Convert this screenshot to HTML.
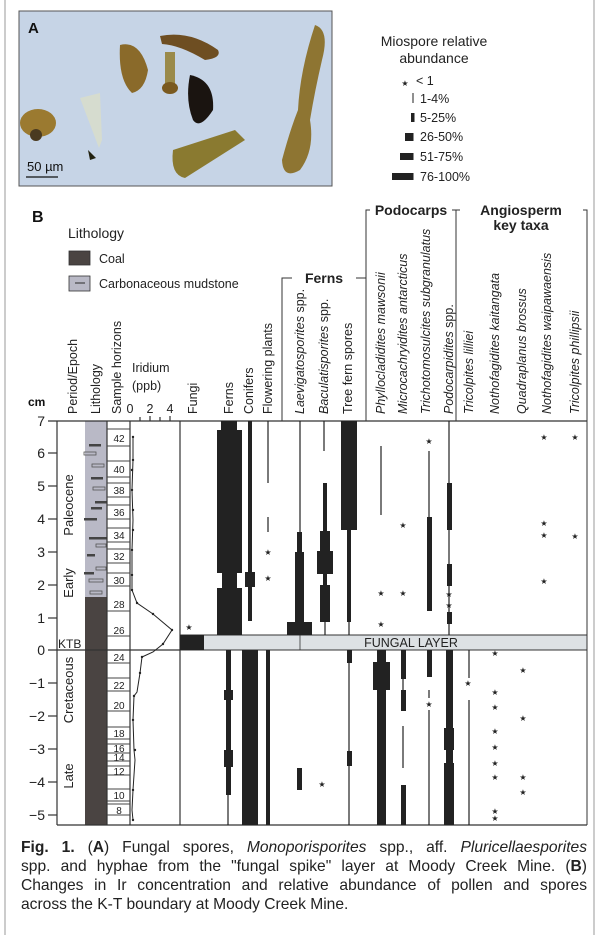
<!DOCTYPE html>
<html><head><meta charset="utf-8"><style>
html,body{margin:0;padding:0;background:#fff;}
body{width:600px;height:935px;position:relative;overflow:hidden;font-family:"Liberation Sans",sans-serif;}
.cap{position:absolute;left:21px;width:566px;font-size:15.6px;color:#222;text-align:justify;text-align-last:justify;white-space:nowrap;}
.cap.last{text-align-last:left;}
</style></head><body>
<svg width="600" height="935" viewBox="0 0 600 935" xmlns="http://www.w3.org/2000/svg" style="position:absolute;left:0;top:0" font-family="Liberation Sans, sans-serif">
<rect x="5" y="-2" width="589" height="940" fill="none" stroke="#bbb" stroke-width="1.5"/>
<!-- Photo A -->
<rect x="19" y="11" width="313" height="175" fill="#c6d4e6" stroke="#555" stroke-width="1"/>
<path d="M120 45 Q140 40 148 70 Q145 90 132 93 Q118 80 120 45Z" fill="#8a6a2a"/>
<path d="M160 36 Q190 30 218 50 Q222 58 205 60 Q180 45 162 44Z" fill="#6e4e22"/>
<rect x="165" y="52" width="10" height="36" fill="#9a8a4a"/>
<ellipse cx="170" cy="88" rx="8" ry="6" fill="#7a5a20"/>
<path d="M190 75 Q215 80 213 110 Q200 130 193 120 Q185 100 190 75Z" fill="#1a1410"/>
<path d="M173 150 L235 130 L245 140 L185 178 Q170 175 173 150Z" fill="#8a7a30"/>
<path d="M315 25 Q330 30 322 60 Q315 90 310 120 Q315 150 300 170 Q283 180 282 160 Q290 130 298 110 Q300 70 315 25Z" fill="#8e7532"/>
<ellipse cx="38" cy="123" rx="18" ry="14" fill="#9b7a30"/>
<ellipse cx="36" cy="135" rx="6" ry="6" fill="#4a3a20"/>
<path d="M80 98 L100 93 L102 140 L99 148 Z" fill="#d6dccf"/>
<path d="M88 150 L96 158 L90 160Z" fill="#221"/>
<text x="28" y="33" font-size="15" font-weight="bold" fill="#111">A</text>
<text x="27" y="171" font-size="13" fill="#111">50 µm</text>
<line x1="26" y1="177" x2="58" y2="177" stroke="#111" stroke-width="1.2"/>
<!-- legend -->
<g fill="#222" font-size="14" text-anchor="middle"><text x="434" y="46">Miospore relative</text><text x="434" y="63">abundance</text></g>
<g font-size="12.5" fill="#222">
<text x="405" y="86" font-size="8" text-anchor="middle">★</text><text x="416" y="85">&lt; 1</text>
<line x1="413" y1="93" x2="413" y2="103" stroke="#222"/><text x="420" y="103">1-4%</text>
<rect x="411" y="113" width="3.5" height="9" fill="#222"/><text x="420" y="122">5-25%</text>
<rect x="405" y="133" width="8.5" height="8" fill="#222"/><text x="420" y="141">26-50%</text>
<rect x="400" y="153" width="13.5" height="7" fill="#222"/><text x="420" y="161">51-75%</text>
<rect x="392" y="173" width="21.5" height="7" fill="#222"/><text x="420" y="181">76-100%</text>
</g>
<!-- B header -->
<text x="32" y="222" font-size="16" font-weight="bold" fill="#111">B</text>
<text x="68" y="238" font-size="14" fill="#222">Lithology</text>
<rect x="69" y="251" width="21" height="14" fill="#4a4442" stroke="#333" stroke-width="0.8"/>
<text x="99" y="263" font-size="12.5" fill="#222">Coal</text>
<rect x="69" y="276" width="21" height="15" fill="#b9b9c6" stroke="#333" stroke-width="0.8"/>
<line x1="75" y1="283" x2="85" y2="283" stroke="#444" stroke-width="1.2"/>
<text x="99" y="288" font-size="12.5" fill="#222">Carbonaceous mudstone</text>
<text x="28" y="406" font-size="12" font-weight="bold" fill="#111">cm</text>
<g font-size="12.5" fill="#222">
<text transform="translate(77,414) rotate(-90)">Period/Epoch</text>
<text transform="translate(100,414) rotate(-90)">Lithology</text>
<text transform="translate(121,414) rotate(-90)">Sample horizons</text>
<text x="132" y="372">Iridium</text><text x="132" y="390">(ppb)</text>
<text x="130" y="413" text-anchor="middle">0</text><text x="150" y="413" text-anchor="middle">2</text><text x="170" y="413" text-anchor="middle">4</text>
<text transform="translate(197,414) rotate(-90)">Fungi</text>
<text transform="translate(233,414) rotate(-90)">Ferns</text>
<text transform="translate(253,414) rotate(-90)">Conifers</text>
<text transform="translate(272,414) rotate(-90)">Flowering plants</text>
</g>
<g font-size="12.5" fill="#222" xml:space="preserve" style="white-space:pre">
<text transform="translate(304,414) rotate(-90)" font-style="italic">Laevigatosporites <tspan font-style="normal">spp.</tspan></text>
<text transform="translate(328,414) rotate(-90)" font-style="italic">Baculatisporites <tspan font-style="normal">spp.</tspan></text>
<text transform="translate(352,414) rotate(-90)">Tree fern spores</text>
<text transform="translate(385,414) rotate(-90)" font-style="italic">Phyllocladidites mawsonii</text>
<text transform="translate(407,414) rotate(-90)" font-style="italic">Microcachryidites antarcticus</text>
<text transform="translate(430,414) rotate(-90)" font-style="italic">Trichotomosulcites subgranulatus</text>
<text transform="translate(453,414) rotate(-90)" font-style="italic">Podocarpidites  <tspan font-style="normal">spp.</tspan></text>
<text transform="translate(473,414) rotate(-90)" font-style="italic">Tricolpites lilliei</text>
<text transform="translate(499,414) rotate(-90)" font-style="italic">Nothofagidites  kaitangata</text>
<text transform="translate(526,414) rotate(-90)" font-style="italic">Quadraplanus brossus</text>
<text transform="translate(551,414) rotate(-90)" font-style="italic">Nothofagidites  waipawaensis</text>
<text transform="translate(579,414) rotate(-90)" font-style="italic">Tricolpites phillipsii</text>
</g>
<g stroke="#333" stroke-width="1" fill="none">
<polyline points="282,421 282,278 292,278"/><polyline points="356,278 366,278"/>
<polyline points="366,421 366,210 370,210"/><polyline points="452,210 456,210"/>
<polyline points="456,421 456,210 460,210"/><polyline points="583,210 587,210 587,825"/>
</g>
<g font-size="14" font-weight="bold" fill="#222" text-anchor="middle">
<text x="324" y="283">Ferns</text><text x="411" y="215">Podocarps</text>
<text x="521" y="215">Angiosperm</text><text x="521" y="230">key taxa</text>
</g>
<!-- Lithology column -->
<rect x="85" y="421" width="22" height="176" fill="#b9b9c6"/>
<rect x="85" y="597" width="22" height="228" fill="#4a4442"/>
<g fill="#444">
<rect x="89" y="444" width="12" height="2.5"/><rect x="91" y="477" width="12" height="2.5"/><rect x="95" y="501" width="12" height="2.5"/>
<rect x="91" y="507" width="11" height="2.5"/><rect x="84" y="518" width="13" height="2.5"/><rect x="89" y="537" width="18" height="2.5"/>
<rect x="87" y="554" width="8" height="2.5"/><rect x="84" y="572" width="10" height="2.5"/>
</g>
<g fill="none" stroke="#555" stroke-width="0.8">
<rect x="84" y="452" width="12" height="3"/><rect x="92" y="464" width="12" height="3"/><rect x="93" y="487" width="12" height="3"/>
<rect x="96" y="544" width="10" height="3"/><rect x="96" y="567" width="10" height="3"/><rect x="89" y="579" width="14" height="3"/><rect x="90" y="591" width="12" height="3"/>
</g>
<!-- axes -->
<g stroke="#333" stroke-width="1.2" fill="none">
<line x1="48" y1="421" x2="587" y2="421"/>
<line x1="57" y1="421" x2="57" y2="825"/>
<line x1="57" y1="825" x2="587" y2="825"/>
<line x1="107" y1="421" x2="107" y2="825"/>
<line x1="130" y1="421" x2="130" y2="825"/>
<line x1="180" y1="421" x2="180" y2="825"/>
<line x1="48" y1="650" x2="180" y2="650"/>
<line x1="140" y1="421" x2="140" y2="417"/><line x1="160" y1="421" x2="160" y2="417"/><line x1="150" y1="421" x2="150" y2="416"/><line x1="170" y1="421" x2="170" y2="416"/>
<line x1="48" y1="453" x2="57" y2="453"/><line x1="48" y1="486" x2="57" y2="486"/><line x1="48" y1="519" x2="57" y2="519"/><line x1="48" y1="552" x2="57" y2="552"/><line x1="48" y1="585" x2="57" y2="585"/><line x1="48" y1="618" x2="57" y2="618"/>
<line x1="48" y1="683" x2="57" y2="683"/><line x1="48" y1="716" x2="57" y2="716"/><line x1="48" y1="749" x2="57" y2="749"/><line x1="48" y1="782" x2="57" y2="782"/><line x1="48" y1="815" x2="57" y2="815"/>
</g>
<g font-size="14" fill="#222" text-anchor="end">
<text x="45" y="426">7</text><text x="45" y="458">6</text><text x="45" y="491">5</text><text x="45" y="524">4</text><text x="45" y="557">3</text><text x="45" y="590">2</text><text x="45" y="623">1</text><text x="45" y="655">0</text>
<text x="45" y="688">−1</text><text x="45" y="721">−2</text><text x="45" y="754">−3</text><text x="45" y="787">−4</text><text x="45" y="820">−5</text>
</g>
<text x="58" y="648" font-size="12" fill="#222">KTB</text>
<g font-size="13" fill="#222" text-anchor="middle">
<text transform="translate(73,505) rotate(-90)">Paleocene</text>
<text transform="translate(73,583) rotate(-90)">Early</text>
<text transform="translate(73,690) rotate(-90)">Cretaceous</text>
<text transform="translate(73,776) rotate(-90)">Late</text>
</g>
<!-- sample horizons -->
<g stroke="#444" stroke-width="0.9">
<line x1="107" y1="429" x2="130" y2="429"/><line x1="107" y1="446" x2="130" y2="446"/>
<line x1="107" y1="461" x2="130" y2="461"/><line x1="107" y1="477" x2="130" y2="477"/>
<line x1="107" y1="483" x2="130" y2="483"/><line x1="107" y1="497" x2="130" y2="497"/>
<line x1="107" y1="505" x2="130" y2="505"/><line x1="107" y1="519" x2="130" y2="519"/>
<line x1="107" y1="528" x2="130" y2="528"/><line x1="107" y1="542" x2="130" y2="542"/>
<line x1="107" y1="549" x2="130" y2="549"/><line x1="107" y1="563" x2="130" y2="563"/>
<line x1="107" y1="573" x2="130" y2="573"/><line x1="107" y1="586" x2="130" y2="586"/>
<line x1="107" y1="611" x2="130" y2="611"/><line x1="107" y1="636" x2="130" y2="636"/>
<line x1="107" y1="663" x2="130" y2="663"/><line x1="107" y1="678" x2="130" y2="678"/>
<line x1="107" y1="691" x2="130" y2="691"/><line x1="107" y1="711" x2="130" y2="711"/>
<line x1="107" y1="727" x2="130" y2="727"/><line x1="107" y1="739" x2="130" y2="739"/>
<line x1="107" y1="744" x2="130" y2="744"/><line x1="107" y1="753" x2="130" y2="753"/>
<line x1="107" y1="761" x2="130" y2="761"/><line x1="107" y1="766" x2="130" y2="766"/>
<line x1="107" y1="775" x2="130" y2="775"/><line x1="107" y1="789" x2="130" y2="789"/>
<line x1="107" y1="801" x2="130" y2="801"/><line x1="107" y1="804" x2="130" y2="804"/>
<line x1="107" y1="815" x2="130" y2="815"/>
</g>
<g font-size="10" fill="#222" text-anchor="middle">
<text x="119" y="442">42</text><text x="119" y="473">40</text><text x="119" y="494">38</text><text x="119" y="516">36</text>
<text x="119" y="539">34</text><text x="119" y="560">32</text><text x="119" y="584">30</text><text x="119" y="608">28</text>
<text x="119" y="634">26</text><text x="119" y="661">24</text><text x="119" y="689">22</text><text x="119" y="709">20</text>
<text x="119" y="737">18</text><text x="119" y="752">16</text><text x="119" y="761">14</text><text x="119" y="775">12</text>
<text x="119" y="799">10</text><text x="119" y="814">8</text>
</g>
<!-- iridium -->
<polyline fill="none" stroke="#222" stroke-width="1" points="133,437 133,460 132,490 133,520 132,550 132,575 132,590 137,603 153,614 172,630 163,644 153,652 142,657 140,673 137,692 134,696 133,720 134,750 135,760 133,790 132,810 133,820"/>
<g fill="#222">
<circle cx="133" cy="437" r="1.2"/><circle cx="133" cy="460" r="1.2"/><circle cx="132" cy="470" r="1.2"/><circle cx="132" cy="490" r="1.2"/><circle cx="133" cy="510" r="1.2"/><circle cx="133" cy="530" r="1.2"/><circle cx="132" cy="550" r="1.2"/><circle cx="132" cy="575" r="1.2"/><circle cx="132" cy="590" r="1.2"/><circle cx="137" cy="603" r="1.2"/><circle cx="153" cy="614" r="1.2"/><circle cx="172" cy="630" r="1.2"/><circle cx="163" cy="644" r="1.2"/><circle cx="142" cy="657" r="1.2"/><circle cx="140" cy="673" r="1.2"/><circle cx="134" cy="696" r="1.2"/><circle cx="133" cy="720" r="1.2"/><circle cx="135" cy="750" r="1.2"/><circle cx="133" cy="790" r="1.2"/><circle cx="133" cy="820" r="1.2"/>
</g>
<!-- fungal layer -->
<rect x="180" y="635" width="407" height="15" fill="#dde1e4" stroke="#333" stroke-width="1"/>
<rect x="180" y="635" width="24" height="15" fill="#222"/>
<line x1="300" y1="635" x2="300" y2="650" stroke="#333" stroke-width="0.8"/>
<text x="411" y="647" font-size="12.5" fill="#222" text-anchor="middle">FUNGAL LAYER</text>
<!-- data bars -->
<g fill="#222">
<rect x="221" y="421" width="16" height="10"/><rect x="217" y="430" width="25" height="143"/><rect x="222" y="573" width="15" height="15"/><rect x="217" y="588" width="25" height="47"/>
<rect x="226" y="650" width="5" height="145"/><rect x="224" y="690" width="9" height="10"/><rect x="224" y="750" width="9" height="17"/>
<rect x="248" y="421" width="4" height="200"/><rect x="245" y="572" width="10" height="15"/><rect x="242" y="650" width="16" height="175"/>
<rect x="266" y="650" width="4" height="175"/>
<rect x="297" y="532" width="5" height="20"/><rect x="295" y="552" width="9" height="70"/><rect x="287" y="622" width="25" height="13"/><rect x="297" y="768" width="5" height="22"/>
<rect x="323" y="483" width="4" height="48"/><rect x="320" y="531" width="10" height="20"/><rect x="317" y="551" width="16" height="23"/><rect x="323" y="574" width="4" height="11"/><rect x="320" y="585" width="10" height="37"/>
<rect x="341" y="421" width="16" height="109"/><rect x="347" y="530" width="4" height="92"/><rect x="347" y="650" width="5" height="13"/><rect x="347" y="751" width="5" height="15"/>
<rect x="377" y="650" width="9" height="175"/><rect x="373" y="662" width="17" height="28"/>
<rect x="401" y="650" width="5" height="29"/><rect x="401" y="690" width="5" height="21"/><rect x="401" y="785" width="5" height="40"/>
<rect x="427" y="517" width="5" height="94"/><rect x="427" y="650" width="5" height="27"/>
<rect x="447" y="483" width="5" height="47"/><rect x="447" y="564" width="5" height="22"/><rect x="447" y="612" width="5" height="12"/>
<rect x="446" y="650" width="7" height="78"/><rect x="444" y="728" width="10" height="22"/><rect x="446" y="750" width="7" height="13"/><rect x="444" y="763" width="10" height="62"/>
</g>
<g stroke="#222" stroke-width="1.2">
<line x1="268" y1="421" x2="268" y2="483"/><line x1="268" y1="517" x2="268" y2="532"/>
<line x1="300" y1="421" x2="300" y2="532"/>
<line x1="324" y1="421" x2="324" y2="451"/><line x1="325" y1="622" x2="325" y2="635"/>
<line x1="349" y1="622" x2="349" y2="635"/><line x1="349" y1="663" x2="349" y2="825"/>
<line x1="381" y1="446" x2="381" y2="515"/>
<line x1="403" y1="679" x2="403" y2="690"/><line x1="403" y1="726" x2="403" y2="768"/>
<line x1="429" y1="451" x2="429" y2="517"/><line x1="429" y1="690" x2="429" y2="698"/><line x1="429" y1="710" x2="429" y2="825"/>
<line x1="449" y1="421" x2="449" y2="635"/>
<line x1="228" y1="795" x2="228" y2="825"/>
<line x1="469" y1="650" x2="469" y2="678"/><line x1="469" y1="700" x2="469" y2="825"/>
</g>
<g font-size="8" fill="#222" text-anchor="middle" font-family="DejaVu Sans, sans-serif">
<text x="189" y="630">★</text>
<text x="268" y="555">★</text><text x="268" y="581">★</text>
<text x="381" y="596">★</text><text x="381" y="627">★</text>
<text x="403" y="528">★</text><text x="403" y="596">★</text>
<text x="429" y="444">★</text><text x="429" y="707">★</text>
<text x="449" y="597">★</text><text x="449" y="608">★</text>
<text x="322" y="787">★</text>
<text x="468" y="686">★</text>
<text x="544" y="440">★</text><text x="544" y="526">★</text><text x="544" y="538">★</text><text x="544" y="584">★</text>
<text x="575" y="440">★</text><text x="575" y="539">★</text>
<text x="495" y="656">★</text><text x="495" y="695">★</text><text x="495" y="710">★</text><text x="495" y="734">★</text><text x="495" y="750">★</text><text x="495" y="766">★</text><text x="495" y="780">★</text><text x="495" y="814">★</text><text x="495" y="821">★</text>
<text x="523" y="673">★</text><text x="523" y="721">★</text><text x="523" y="780">★</text><text x="523" y="795">★</text>
</g>
</svg>
<div class="cap" style="top:839px"><b>Fig. 1.</b> (<b>A</b>) Fungal spores, <i>Monoporisporites</i> spp., aff. <i>Pluricellaesporites</i></div>
<div class="cap" style="top:858px">spp. and hyphae from the "fungal spike" layer at Moody Creek Mine. (<b>B</b>)</div>
<div class="cap" style="top:877px">Changes in Ir concentration and relative abundance of pollen and spores</div>
<div class="cap last" style="top:896px">across the K-T boundary at Moody Creek Mine.</div>
</body></html>
